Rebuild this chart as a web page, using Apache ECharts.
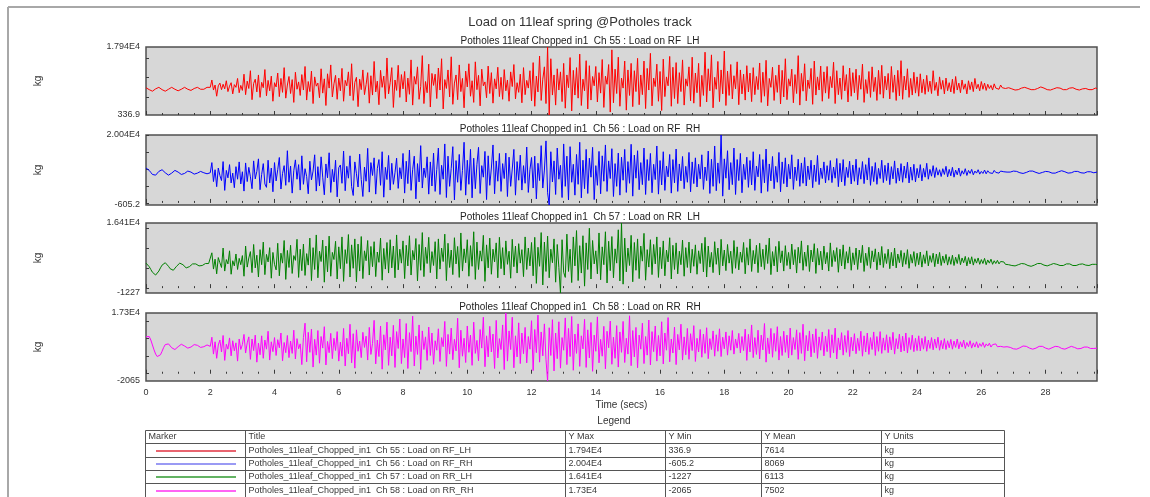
<!DOCTYPE html>
<html>
<head>
<meta charset="utf-8">
<title>Load on 11leaf spring @Potholes track</title>
<script src="https://cdn.jsdelivr.net/npm/echarts@6/dist/echarts.min.js"></script>
<style>
  html, body { margin: 0; padding: 0; background: #ffffff; }
  #chart { width: 1150px; height: 497px; }
</style>
</head>
<body>
<div id="chart"></div>
<script>
// Sampling interval of the recorded channels (seconds)
const SAMPLE_DT = 0.05;

// Channel titles and colours
const channelTitles = [
  'Potholes 11leaf Chopped in1  Ch 55 : Load on RF  LH',
  'Potholes 11leaf Chopped in1  Ch 56 : Load on RF  RH',
  'Potholes 11leaf Chopped in1  Ch 57 : Load on RR  LH',
  'Potholes 11leaf Chopped in1  Ch 58 : Load on RR  RH'
];
const legendTitles = [
  'Potholes_11leaf_Chopped_in1  Ch 55 : Load on RF_LH',
  'Potholes_11leaf_Chopped_in1  Ch 56 : Load on RF_RH',
  'Potholes_11leaf_Chopped_in1  Ch 57 : Load on RR_LH',
  'Potholes_11leaf_Chopped_in1  Ch 58 : Load on RR_RH'
];
const channelColors = ['#ff0000', '#0000ff', '#008000', '#ff00ff'];
const markerColors = ['#e0303f', '#7878f0', '#2f9a2f', '#ff30f0'];

// Axis extents and their printed labels
const yMin = [336.9, -605.2, -1227, -2065];
const yMax = [17940, 20040, 16410, 17300];
const yMinLabels = ['336.9', '-605.2', '-1227', '-2065'];
const yMaxLabels = ['1.794E4', '2.004E4', '1.641E4', '1.73E4'];
const yMeanLabels = ['7614', '8069', '6113', '7502'];
const yUnits = ['kg', 'kg', 'kg', 'kg'];
const xTickLabels = ['0', '2', '4', '6', '8', '10', '12', '14', '16', '18', '20', '22', '24', '26', '28'];

// Ch 55 : Load on RF_LH (kg), one row per second after the 2 s settle
const loadRF_LH = [
  7400, 7200, 6900, 6600, 6500, 6700, 7100, 7400, 7500, 7300, 6900, 6600, 6500, 6700, 7000, 7300, 7500, 7400, 7000, 6700,
  6600, 6700, 7000, 7400, 7500, 7300, 7000, 6800, 6700, 6900, 7200, 7500, 7500, 7300, 7000, 6900, 7000, 7300, 7500, 7600, 7500,
  9400, 6800, 8100, 5200, 7900, 8600, 6900, 8300, 7100, 9200, 6400, 7800, 8700, 5800, 8200, 7500, 9800, 6100, 8000, 6700,
  10900, 5600, 9100, 7200, 11800, 4300, 8500, 9600, 6300, 10700, 4900, 8800, 7400, 12100, 5300, 9300, 6600, 10400, 3900, 8700,
  7600, 11200, 5100, 9800, 6200, 12600, 4700, 8100, 10300, 5900, 9500, 3600, 11400, 7000, 8900, 5400, 10800, 6800, 12900, 4200,
  9000, 6400, 11700, 3300, 10200, 7800, 8600, 4800, 12300, 6000, 9700, 2800, 11000, 7300, 13300, 5000, 8400, 10600, 4400, 9900,
  6600, 12400, 3900, 9300, 7900, 11500, 5300, 13600, 4100, 8800, 10100, 2500, 9600, 6900, 12000, 5600, 8200, 11300, 3400, 10500,
  5500, 14200, 6300, 9100, 3000, 11900, 7500, 10400, 4600, 15100, 5800, 8700, 12600, 2300, 9400, 6700, 13200, 4900, 10800, 7100,
  11600, 3700, 9900, 5700, 14600, 2900, 10300, 8300, 12800, 4400, 7700, 15700, 3300, 9000, 6100, 13500, 2400, 11100, 8000, 10900,
  4600, 12500, 6800, 14900, 1900, 9500, 7200, 12000, 5000, 15400, 3100, 8600, 10700, 4300, 13300, 6400, 9800, 2200, 11700, 7600,
  13600, 5200, 9200, 3600, 14100, 6900, 10600, 2700, 12200, 7900, 8900, 4800, 13000, 5900, 11300, 3400, 9700, 7100, 12700, 5100,
  10100, 4400, 12100, 6600, 9400, 3900, 11500, 7700, 13400, 4500, 8700, 6200, 10900, 3500, 12600, 5600, 9300, 7300, 11800, 4000,
  13900, 2600, 10400, 6300, 15600, 4100, 9600, 12800, 3300, 17940, 336.9, 14900, 5500, 10700, 2900, 12300, 6800, 11500, 3800, 13700,
  2100, 10700, 7400, 15200, 1400, 11900, 5500, 12600, 4700, 16100, 2800, 9600, 6600, 14400, 1900, 13100, 4200, 10300, 7900, 12900,
  3700, 11300, 6000, 14700, 2300, 10400, 8300, 13400, 1100, 17200, 3500, 12200, 5900, 15300, 2600, 9900, 7300, 14300, 1600, 12000,
  5400, 13700, 2500, 11800, 6400, 15000, 3000, 10700, 5600, 14300, 2000, 12400, 6800, 16300, 2700, 9900, 7700, 13500, 3900, 11600,
  1500, 14800, 5100, 10200, 7900, 15500, 2600, 12700, 4600, 13900, 3300, 11300, 6400, 14600, 2900, 9700, 7800, 12800, 4000, 15300,
  3400, 11200, 6100, 13700, 2500, 10600, 5400, 16600, 3700, 12300, 6600, 15900, 2200, 10100, 7000, 14200, 3800, 12000, 5800, 16900,
  2800, 11700, 5400, 13400, 4500, 10500, 7100, 14100, 3000, 12000, 5800, 10900, 4200, 13100, 6300, 11200, 3800, 12600, 5600, 10300,
  6900, 13800, 3600, 11400, 5200, 14500, 2700, 9800, 7500, 12700, 4100, 10600, 6200, 13300, 3200, 11900, 5000, 14900, 4300, 9700,
  7800, 12200, 3500, 10800, 5900, 15700, 2900, 11100, 6500, 13600, 4000, 9400, 7200, 12400, 3100, 14300, 5500, 10200, 6800, 13000,
  3900, 11500, 6000, 12900, 4600, 10300, 7400, 14000, 3300, 11800, 5600, 9900, 4400, 13100, 6600, 10800, 3700, 12500, 5200, 11300,
  6100, 12200, 4300, 10600, 7000, 13500, 3600, 9500, 5900, 11600, 4900, 12800, 6400, 10100, 4100, 11900, 5700, 13200, 4700, 10400,
  6800, 11100, 4500, 12900, 6200, 10700, 4100, 11900, 5300, 14400, 4400, 10400, 6800, 12300, 4900, 9800, 5500, 11400, 6000, 10200,
  5200, 11000, 6100, 9600, 5700, 10600, 6400, 9100, 5900, 11800, 6700, 8800, 5300, 10200, 7000, 9300, 5800, 9900, 6600, 8700,
  6300, 9600, 5900, 10300, 6800, 8600, 6100, 9400, 7000, 8400, 5800, 9200, 6900, 8900, 6400, 9800, 7100, 8300, 6600, 9000,
  7000, 8600, 6700, 8300, 7200, 8000, 6800, 8400, 7300, 7800, 7000, 8100, 7400, 7700, 7200, 7500,
  7400, 7300, 7100, 6900, 6800, 6800, 6900, 7100, 7300, 7500, 7500, 7400, 7200, 7000,
  6900, 6800, 6900, 7000, 7200, 7400, 7600, 7500, 7300, 7100, 6900, 6800, 6800, 6900,
  7100, 7300, 7400, 7400, 7300, 7100, 6900, 6800, 6900, 7100, 7300, 7500, 7400, 7200,
  7000, 6900, 6800, 6900, 7100, 7200, 7200, 7000, 6900, 6800, 6900, 7100, 7300, 7200
];

// Ch 56 : Load on RF_RH (kg)
const loadRF_RH = [
  10300, 10100, 9600, 9000, 8400, 8100, 8200, 8700, 9300, 9700, 9800, 9500, 8900, 8400, 8200, 8300, 8800, 9300, 9600, 9500,
  9100, 8700, 8400, 8400, 8700, 9100, 9400, 9400, 9100, 8800, 8500, 8500, 8800, 9100, 9300, 9200, 8900, 8700, 8600, 8800, 8900,
  11900, 6300, 9800, 4800, 10300, 8100, 6600, 12200, 3700, 9600, 7400, 11300, 5900, 8800, 4500, 10700, 7000, 12100, 5600, 9200,
  3500, 11800, 6300, 10500, 7700, 4200, 12400, 7100, 9300, 13000, 3900, 8400, 11600, 5600, 4600, 12600, 5900, 10300, 3300, 11900,
  6500, 9800, 13400, 4100, 8700, 11000, 5200, 15400, 6100, 10900, 2900, 9500, 12700, 7000, 11300, 3800, 13900, 5500, 10100, 7800,
  2700, 12300, 6800, 9400, 14200, 3500, 10700, 5000, 13600, 7600, 2400, 11500, 7400, 14800, 3100, 9900, 6200, 12600, 1800, 10400,
  11200, 5800, 15300, 3600, 10800, 7300, 13900, 4800, 2200, 12100, 8600, 4700, 14400, 6900, 1900, 10600, 6400, 16100, 3200, 11900,
  8100, 13300, 2600, 10200, 12800, 5200, 15100, 1700, 10500, 6900, 14000, 3800, 11700, 5500, 8900, 13200, 4300, 10400, 7100, 14600,
  2900, 12300, 5700, 15600, 3700, 9800, 13800, 1200, 11600, 6200, 16900, 4400, 10300, 7500, 13600, 2600, 12100, 5000, 14700, 3400,
  9900, 16200, 2500, 11100, 7000, 17400, 1600, 13800, 4900, 10200, 16600, 900, 12500, 6100, 14300, 3700, 9600, 17900, 2300, 12600,
  5500, 15800, 1500, 13200, 4200, 11400, 16400, 2800, 11000, 7600, 15200, 1000, 13900, 5200, 10300, 17100, 2700, 12400, 6400, 14600,
  3400, 11600, 7200, 14700, 1900, 13500, 4900, 10000, 15800, 2300, 12200, 6700, 14100, 3800, 11000, 5800, 16500, 3100, 9800, 13400,
  4400, 13800, 1200, 11700, 6600, 16900, 4400, 9700, 18300, 3000, -605.2, 15100, 6200, 12400, 2500, 16200, 7000, 11100, 1600, 17400,
  4900, 13800, 900, 16600, 6100, 11400, 2300, 14300, 5500, 17900, 1500, 12600, 4200, 15800, 2800, 13200, 7600, 16400, 1000, 11000,
  5200, 15200, 2700, 13900, 6400, 17100, 3400, 12400, 7200, 16000, 1900, 11600, 4900, 14700, 2300, 13500, 6700, 15800, 3100, 12200,
  5800, 17300, 2000, 14100, 7300, 15400, 3900, 11900, 5400, 16200, 2500, 12800, 6600, 14600, 3000, 11400, 6900, 16800, 2600, 12500,
  5300, 15100, 3700, 10900, 7700, 14300, 2900, 12800, 5900, 15900, 3400, 11500, 6500, 13700, 4200, 10800, 6100, 14900, 3300, 12100,
  5700, 13300, 4700, 11400, 7100, 14200, 4000, 10600, 6600, 15300, 2800, 12900, 4900, 16800, 3600, 11800, 5800, 20040, 2000, 13000,
  7300, 15400, 3900, 11900, 5400, 16200, 2500, 12800, 6600, 14600, 3000, 11400, 6900, 13500, 4600, 12500, 5300, 15100, 3700, 10900,
  7700, 14300, 2900, 12800, 5900, 15900, 3400, 11500, 6500, 13700, 4200, 10800, 6100, 14900, 3300, 12100, 5700, 13300, 4700, 11400,
  7100, 14200, 4000, 10600, 6600, 12900, 4900, 11800, 5800, 13400, 5000, 10900, 6900, 12600, 4500, 11200, 6300, 14000, 5400, 10300,
  7200, 12100, 5900, 11000, 6700, 12500, 6000, 10600, 7300, 13100, 4800, 11700, 6200, 12800, 5100, 10500, 7500, 12300, 5600, 11200,
  6400, 12900, 5300, 10400, 7000, 12200, 5700, 11300, 6800, 13300, 5200, 10800, 6300, 11900, 5500, 10200, 7200, 12600, 6000, 11100,
  6600, 11800, 5400, 10700, 7100, 12400, 5800, 10300, 6500, 11600, 6100, 10900, 7300, 12000, 5900, 10600, 6700, 11400, 6200, 10200,
  7400, 11300, 6500, 10200, 7600, 11700, 7000, 9900, 7900, 11000, 7500, 10400, 8200, 9800, 7800, 10100, 8400, 10800, 7700, 9900,
  8000, 10500, 7600, 9700, 8300, 10300, 7900, 9500, 8500, 10100, 8100, 9600, 8700, 9900, 8300, 9400, 8800, 9800, 8500, 9300,
  8700, 9700, 8600, 9500, 8900, 9400, 8700, 9600, 9000, 9300, 8800, 9400, 9100, 9200, 8900, 9100,
  9000, 9100, 9300, 9400, 9400, 9300, 9100, 8900, 8800, 8700, 8800, 9000, 9200, 9400,
  9500, 9400, 9200, 9000, 8800, 8700, 8800, 9000, 9200, 9300, 9300, 9200, 9000, 8800,
  8700, 8800, 9000, 9200, 9400, 9500, 9400, 9200, 9000, 8800, 8800, 8900, 9100, 9300,
  9400, 9300, 9100, 8900, 8800, 8800, 9000, 9200, 9300, 9200, 9000, 8900, 9000, 9100
];

// Ch 57 : Load on RR_LH (kg)
const loadRR_LH = [
  6300, 6000, 5400, 4700, 4000, 3500, 3300, 3600, 4300, 5100, 5800, 6300, 6400, 6100, 5500, 4900, 4500, 4500, 4900, 5500,
  6000, 6300, 6200, 5900, 5400, 5100, 5100, 5400, 5800, 6100, 6200, 6100, 5800, 5600, 5500, 5700, 6000, 6200, 6300, 6200, 6400,
  8900, 4800, 7300, 3600, 7700, 6400, 5200, 10100, 4300, 7200, 6100, 9400, 3500, 6900, 5600, 8600, 4700, 7500, 5900, 8200,
  3000, 10600, 5300, 7600, 9200, 3900, 11000, 5100, 8300, 2800, 9700, 5900, 11600, 3400, 8500, 6600, 10200, 2500, 9000, 6000,
  4600, 11300, 3100, 8800, 6300, 12000, 2200, 9500, 5200, 10800, 3700, 8200, 7000, 12300, 2700, 9800, 4400, 11100, 3200, 8700,
  5800, 12600, 1900, 10200, 4700, 13400, 2600, 9300, 6700, 12100, 1500, 10600, 4100, 13100, 3000, 9000, 7200, 11800, 2300, 10400,
  4900, 12900, 1700, 9700, 6200, 13500, 2800, 10900, 5000, 12400, 1600, 11100, 4300, 13000, 2400, 9400, 6900, 12000, 3300, 10500,
  5400, 11700, 2900, 9100, 6500, 12600, 2000, 10000, 4800, 11500, 3800, 12200, 5100, 10600, 2600, 13400, 4600, 9800, 6300, 11900,
  2400, 10800, 5600, 13200, 3300, 9500, 7100, 12500, 1800, 11000, 4500, 14000, 2900, 10300, 6200, 12800, 3900, 9200, 5700, 11700,
  2300, 12400, 4800, 10100, 6700, 13600, 1900, 11300, 5200, 9600, 3400, 12700, 6100, 10500, 2700, 13900, 4300, 9900, 6400, 12200,
  3000, 10700, 5500, 14200, 2200, 11600, 4700, 9400, 6800, 13300, 1700, 10900, 5100, 12600, 3500, 9800, 6600, 11400, 2600, 12800,
  4900, 10200, 3300, 11900, 6000, 9300, 2500, 12300, 5400, 10600, 3800, 11200, 6300, 9700, 2900, 12900, 4700, 10100, 5600, 11500,
  3100, 12800, 1200, 10300, 5500, 14000, 800, 11600, 4200, 13100, 2600, 9800, 6400, 12400, 1500, 11000, 5200, -1227, 12200, 4000,
  2700, 13600, 4200, 9800, 1400, 12900, 5600, 14500, 1900, 10700, 3800, 13200, 500, 11400, 4700, 15100, 2300, 12000, 6100, 9400,
  3600, 13900, 2100, 10400, 5900, 14200, 1300, 11800, 4400, 13000, 2600, 9900, 6300, 14700, 1800, 16410, 1000, 12600, 4100, 10100,
  5700, 13300, 1600, 11500, 4500, 12400, 2400, 10600, 6800, 13800, 2000, 9700, 5300, 12200, 3400, 11000, 6100, 12900, 2700, 10300,
  4900, 11900, 3100, 9600, 6600, 12700, 2300, 10800, 4700, 11400, 3600, 9300, 5900, 12100, 3000, 10200, 5200, 11600, 3800, 9800,
  5500, 10900, 3500, 9400, 6200, 11300, 4100, 12800, 2800, 10600, 5300, 9000, 3900, 11700, 6000, 10100, 3300, 12300, 5600, 9600,
  4400, 11000, 6300, 9300, 3700, 12000, 5000, 10400, 4600, 9100, 6500, 11500, 3600, 10200, 5800, 12400, 4200, 9500, 6100, 10800,
  3900, 11300, 5400, 9800, 4700, 10900, 6200, 12600, 3400, 9200, 5600, 10500, 4100, 11800, 6400, 9400, 4300, 10700, 5700, 9000,
  4800, 11100, 5900, 9700, 3800, 10300, 6300, 11900, 4500, 9100, 5500, 10800, 4200, 9600, 6600, 11200, 3700, 10000, 5800, 9300,
  4600, 10600, 6100, 9000, 4300, 11400, 5400, 9500, 6700, 10200, 4000, 9800, 5600, 10900, 4800, 9200, 6300, 10400, 4500, 8900,
  5900, 10100, 4700, 9600, 6400, 10800, 4200, 8800, 5700, 10300, 5000, 9400, 6600, 9900, 4600, 9100, 5800, 10500, 5200, 8700,
  6200, 9800, 4900, 9000, 5600, 10100, 5100, 8600, 6400, 9500, 5400, 8900, 6000, 9700, 5000, 8500, 6300, 9200, 5500, 8800,
  5900, 9100, 5300, 8400, 6200, 9400, 5600, 8200, 6500, 8800, 5400, 8600, 6100, 9000, 5700, 8100, 6300, 8500, 5800, 7900,
  6000, 8300, 5700, 7800, 6200, 8500, 5900, 7600, 6400, 8000, 5600, 7700, 6100, 7900, 5800, 7400, 6300, 7600, 6000, 7200,
  6200, 7500, 5900, 7100, 6300, 7300, 6000, 6900, 6200, 7000, 6100, 6700, 6300, 6600, 6000, 6300,
  5900, 5800, 5700, 5600, 5600, 5700, 5900, 6100, 6200, 6200, 6100, 5900, 5700, 5600,
  5500, 5600, 5800, 6000, 6200, 6300, 6200, 6000, 5800, 5600, 5600, 5700, 5900, 6100,
  6200, 6200, 6000, 5800, 5700, 5600, 5700, 5900, 6100, 6200, 6100, 5900, 5700, 5600,
  5700, 5800, 6000, 6100, 6100, 6000, 5800, 5700, 5700, 5800, 6000, 6100, 6000, 5900
];

// Ch 58 : Load on RR_RH (kg)
const loadRR_RH = [
  10500, 10900, 10600, 9600, 8200, 6800, 5600, 4900, 4800, 5400, 6400, 7500, 8300, 8700, 8500, 8000, 7400, 7000, 6900, 7200,
  7700, 8200, 8400, 8300, 7900, 7500, 7300, 7300, 7600, 8000, 8300, 8300, 8100, 7800, 7500, 7500, 7700, 8000, 8200, 8100, 7800,
  10400, 5600, 9100, 4400, 8200, 9600, 6200, 10900, 3800, 8400, 7000, 10200, 5100, 9400, 6500, 8800, 3600, 9900, 6900, 8300,
  11200, 5900, 8800, 10500, 4100, 9900, 6600, 11000, 3300, 8700, 5400, 10800, 4400, 9600, 7000, 12100, 3900, 9100, 6300, 10300,
  5200, 9700, 7400, 11600, 3700, 8900, 6000, 10900, 4600, 9300, 5800, 12400, 4200, 10000, 7100, 8500, 2600, 10300, 14400, 3400,
  11800, 6100, 12700, 1900, 9800, 5300, 12300, 3000, 10600, 7300, 13400, 2500, 9200, 6000, 11500, 4300, 10100, 6600, 12000, 3600,
  9000, 5000, 12900, 2200, 10100, 5700, 14100, 3100, 11400, 1600, 12500, 6400, 9300, 4600, 11800, 7500, 10700, 3900, 13200, 5500,
  8600, 15200, 2800, 9600, 4900, 13600, 1300, 11100, 6800, 14700, 2400, 10400, 5100, 13800, 1800, 12000, 7200, 15600, 2900, 9900,
  4600, 14300, 1500, 11700, 6300, 16400, 2200, 10700, 5500, 13900, 1200, 12200, 6900, 10500, 3800, 13300, 5200, 11600, 2700, 9400,
  6700, 12800, 3500, 10300, 7700, 14900, 2100, 11200, 5600, 13000, 4000, 9800, 6500, 15800, 1700, 12400, 5000, 10100, 3200, 13600,
  6100, 11000, 2400, 14700, 5800, 9500, 3700, 12600, 7300, 16100, 2000, 10800, 4800, 13500, 6200, 11300, 1500, 15200, 4500, 10000,
  6900, 13900, 1200, 17300, 3600, 12200, 6900, 16100, 1700, 10800, 4800, 14500, 2900, 11600, 5700, 13200, 3100, 10600, 7000, 15100,
  900, 12600, 6000, 16700, 3300, 11900, 5100, 14200, 4000, -2065, 13100, 5200, 15400, 800, 11600, 4300, 14800, 1600, 10300, 6700,
  15900, 2600, 12900, 4900, 16300, 1000, 11300, 5800, 14200, 2100, 10800, 7100, 15500, 1800, 12500, 4500, 14600, 700, 11000, 6400,
  16200, 3100, 9800, 5000, 13500, 1400, 12100, 7400, 15000, 2700, 10400, 4400, 13700, 1900, 11900, 6100, 14900, 3200, 10100, 5600,
  16500, 2300, 12300, 4800, 13200, 1700, 11000, 7000, 14400, 2900, 10600, 5300, 15300, 2500, 12000, 6300, 13600, 3600, 10900, 5100,
  14800, 2800, 11600, 6700, 16000, 3400, 9900, 5900, 13300, 2600, 11200, 6800, 14100, 3900, 10500, 5400, 12900, 4100, 11400, 6600,
  13700, 3500, 10100, 6200, 12600, 4700, 11300, 5800, 13100, 4300, 10000, 6900, 12200, 5000, 11100, 6400, 12800, 4900, 10400, 7100,
  11900, 5300, 10800, 6700, 12300, 5600, 9900, 7300, 11500, 5900, 10600, 6600, 12700, 3800, 11200, 6200, 13900, 4600, 10300, 5500,
  12400, 4200, 11000, 6800, 14300, 3300, 10200, 5700, 12900, 4700, 11500, 6400, 13400, 3900, 10600, 5200, 12100, 6100, 11000, 4500,
  13000, 5300, 10300, 6900, 12500, 4100, 11700, 5800, 14100, 3700, 10900, 6500, 12200, 4800, 11300, 6000, 12800, 4400, 10500, 6700,
  11900, 5100, 10700, 6300, 12600, 4600, 11100, 5900, 13000, 4200, 10200, 6800, 11700, 5300, 10900, 6100, 12300, 4900, 10400, 6500,
  11400, 5700, 10100, 6600, 12100, 5000, 10800, 6200, 11600, 5500, 10300, 6900, 11900, 5200, 10600, 6400, 12000, 5800, 10200, 6700,
  11100, 6000, 10500, 6800, 11800, 5600, 10000, 7100, 11300, 6200, 10700, 6500, 11600, 5900, 10300, 6900, 11000, 6300, 10100, 6600,
  10800, 6500, 10100, 7000, 10600, 6400, 9600, 7200, 10300, 6800, 9900, 7300, 10400, 6700, 9500, 7100, 10000, 6900, 9400, 7400,
  9800, 7000, 9300, 7500, 9900, 7100, 9100, 7600, 9600, 7200, 8900, 7700, 9400, 7300, 8800, 7600, 9100, 7400, 8600, 7800,
  8900, 7500, 8500, 7900, 8700, 7600, 8300, 7900, 8500, 7700, 8200, 7800, 8100, 7600, 7900, 7700,
  7600, 7500, 7300, 7100, 7000, 7000, 7200, 7400, 7700, 7900, 7900, 7800, 7600, 7300,
  7100, 7000, 7100, 7300, 7600, 7800, 7900, 7800, 7500, 7300, 7100, 7000, 7100, 7400,
  7600, 7800, 7900, 7700, 7500, 7200, 7000, 7000, 7200, 7400, 7700, 7800, 7700, 7500,
  7300, 7100, 7100, 7200, 7400, 7600, 7700, 7600, 7400, 7200, 7100, 7200, 7400, 7300
];

const channels = [loadRF_LH, loadRF_RH, loadRR_LH, loadRR_RH];

// ---- layout ----
const FONT = '"Liberation Sans", Arial, sans-serif';
const TEXT = '#333333';
const plotLeft = 146;
const plotRight = 1097;
const plotTops = [47, 135, 223, 313];
const plotHeights = [68, 70, 70, 68];
const T_MAX = 29.6;

const grids = plotTops.map((top, i) => ({
  left: plotLeft,
  top: top,
  width: plotRight - plotLeft,
  height: plotHeights[i],
  show: true,
  backgroundColor: '#d7d7d7',
  borderColor: '#505050',
  borderWidth: 1.5
}));

const xAxes = plotTops.map((_, i) => ({
  type: 'value',
  gridIndex: i,
  min: 0,
  max: T_MAX,
  interval: 2,
  axisLine: { show: false },
  axisTick: { show: true, inside: true, length: 4, lineStyle: { color: '#3a3a3a', width: 1 } },
  minorTick: { show: true, splitNumber: 4, length: 2, lineStyle: { color: '#3a3a3a', width: 1 } },
  splitLine: { show: false },
  axisLabel: {
    show: i === 3,
    showMaxLabel: false,
    margin: 7,
    fontFamily: FONT,
    fontSize: 9,
    color: TEXT,
    formatter: (v) => {
      const idx = Math.round(v / 2);
      return Math.abs(v - idx * 2) < 1e-6 && xTickLabels[idx] !== undefined ? xTickLabels[idx] : '';
    }
  },
  name: i === 3 ? 'Time (secs)' : '',
  nameLocation: 'middle',
  nameGap: 19,
  nameTextStyle: { fontFamily: FONT, fontSize: 10, color: TEXT }
}));

function innerTicks(lo, hi, step) {
  const out = [];
  for (let v = Math.ceil(lo / step) * step; v < hi; v += step) {
    if (v > lo) out.push(v);
  }
  return out;
}

const yAxes = plotTops.map((_, i) => ({
  type: 'value',
  gridIndex: i,
  min: yMin[i],
  max: yMax[i],
  axisLine: { show: false },
  splitLine: { show: false },
  axisTick: {
    show: true,
    inside: true,
    length: 3,
    customValues: innerTicks(yMin[i], yMax[i], 5000),
    lineStyle: { color: '#3a3a3a' }
  },
  axisLabel: {
    customValues: [yMin[i], yMax[i]],
    margin: 6,
    fontFamily: FONT,
    fontSize: 9,
    color: TEXT,
    formatter: (v) => (Math.abs(v - yMax[i]) < 1e-6 ? yMaxLabels[i] : yMinLabels[i])
  },
  name: yUnits[i],
  nameLocation: 'middle',
  nameGap: 103,
  nameTextStyle: { fontFamily: FONT, fontSize: 10, color: TEXT }
}));

const series = channels.map((vals, i) => ({
  type: 'line',
  name: legendTitles[i],
  xAxisIndex: i,
  yAxisIndex: i,
  data: vals.map((v, k) => [+(k * SAMPLE_DT).toFixed(2), v]),
  showSymbol: false,
  symbol: 'none',
  lineStyle: { color: channelColors[i], width: 1 },
  itemStyle: { color: channelColors[i] },
  z: 3
}));

// ---- titles, frame and legend table drawn as graphics ----
const graphics = [];

// outer frame (top and left edges)
graphics.push({ type: 'line', shape: { x1: 8, y1: 7, x2: 1140, y2: 7 }, style: { stroke: '#a8a8a8', lineWidth: 2 } });
graphics.push({ type: 'line', shape: { x1: 8, y1: 7, x2: 8, y2: 497 }, style: { stroke: '#a8a8a8', lineWidth: 2 } });

graphics.push({
  type: 'text', x: 580, y: 22,
  style: { text: 'Load on 11leaf spring @Potholes track', font: '13px ' + FONT, fill: TEXT, textAlign: 'center', textVerticalAlign: 'middle' }
});
channelTitles.forEach((t, i) => {
  graphics.push({
    type: 'text', x: 580, y: plotTops[i] - 6,
    style: { text: t, font: '10px ' + FONT, fill: '#222', textAlign: 'center', textVerticalAlign: 'middle' }
  });
});
graphics.push({
  type: 'text', x: 614, y: 421,
  style: { text: 'Legend', font: '10px ' + FONT, fill: TEXT, textAlign: 'center', textVerticalAlign: 'middle' }
});

// legend table
const tableHeaders = ['Marker', 'Title', 'Y Max', 'Y Min', 'Y Mean', 'Y Units'];
const colX = [145.5, 245.5, 565.5, 665.5, 761.5, 881.5, 1004.5];
const rowY = [430.5, 443.5, 457.5, 470.5, 483.5, 497.5];
const gridStroke = '#555555';
rowY.forEach((y) => {
  graphics.push({ type: 'line', shape: { x1: colX[0], y1: y, x2: colX[colX.length - 1], y2: y }, style: { stroke: gridStroke, lineWidth: 1 } });
});
colX.forEach((x) => {
  graphics.push({ type: 'line', shape: { x1: x, y1: rowY[0], x2: x, y2: rowY[rowY.length - 1] }, style: { stroke: gridStroke, lineWidth: 1 } });
});
function cellText(col, row, text) {
  graphics.push({
    type: 'text', x: colX[col] + 3, y: (rowY[row] + rowY[row + 1]) / 2,
    style: { text: text, font: '9px ' + FONT, fill: '#3a3a3a', textAlign: 'left', textVerticalAlign: 'middle' }
  });
}
tableHeaders.forEach((h, c) => cellText(c, 0, h));
legendTitles.forEach((t, r) => {
  const row = r + 1;
  const cy = Math.round((rowY[row] + rowY[row + 1]) / 2);
  graphics.push({
    type: 'line',
    shape: { x1: 156, y1: cy, x2: 236, y2: cy },
    style: { stroke: markerColors[r], lineWidth: 1.6 },
    z: 10
  });
  cellText(1, row, t);
  cellText(2, row, yMaxLabels[r]);
  cellText(3, row, yMinLabels[r]);
  cellText(4, row, yMeanLabels[r]);
  cellText(5, row, yUnits[r]);
});

const chart = echarts.init(document.getElementById('chart'), null, { renderer: 'canvas' });
chart.setOption({
  animation: false,
  backgroundColor: '#ffffff',
  grid: grids,
  xAxis: xAxes,
  yAxis: yAxes,
  series: series,
  graphic: graphics
});
</script>
</body>
</html>
